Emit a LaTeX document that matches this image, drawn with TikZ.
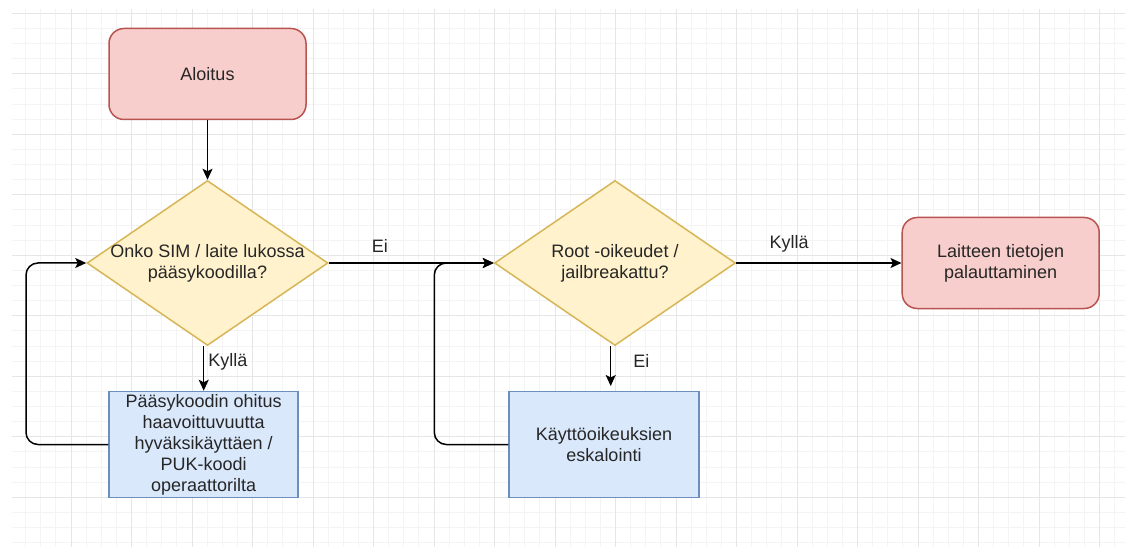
\documentclass[tikz,border=0pt]{standalone}
\usepackage{fontspec}
\setmainfont{Liberation Sans}
\usetikzlibrary{shapes.geometric,arrows.meta}

\definecolor{termfill}{HTML}{F8CECC}
\definecolor{termline}{HTML}{B85450}
\definecolor{decfill}{HTML}{FFF2CC}
\definecolor{decline}{HTML}{D6B656}
\definecolor{procfill}{HTML}{DAE8FC}
\definecolor{procline}{HTML}{6C8EBF}
\definecolor{gridminor}{HTML}{F4F4F4}
\definecolor{gridmajor}{HTML}{E6E6E6}

\tikzset{
  txt/.style={font=\fontsize{18}{21}\selectfont, align=center, text=black!85},
  terminal/.style={txt, rectangle, rounded corners=15, draw=termline, fill=termfill,
    line width=1.5, minimum width=197, minimum height=91, inner sep=0},
  decision/.style={diamond, draw=decline, fill=decfill, line width=1.5,
    minimum width=241, minimum height=165, inner sep=0},
  process/.style={txt, rectangle, draw=procline, fill=procfill, line width=1.5,
    minimum height=106, inner sep=0},
  arr/.style={line width=1.5, -{Stealth[length=11, width=10, inset=2.5]}},
  lbl/.style={font=\fontsize{18}{21}\selectfont, text=black!85, inner sep=0},
}

\begin{document}
\begin{tikzpicture}[x=1pt, y=-1pt]
  \useasboundingbox (0,0) rectangle (1130,548);
  \fill[white] (0,0) rectangle (1130,548);

  % background grid: minor every 15.125, major every 60.5
  \begin{scope}
    \clip (12,10) rectangle (1125,546);
    \foreach \j in {-3,...,70} {
      \pgfmathsetmacro{\gx}{71+15.125*\j}
      \draw[gridminor, line width=1] (\gx,0) -- (\gx,548);
    }
    \foreach \j in {0,...,36} {
      \pgfmathsetmacro{\gy}{13.3+15.125*\j}
      \draw[gridminor, line width=1] (0,\gy) -- (1130,\gy);
    }
    \foreach \j in {-1,...,18} {
      \pgfmathsetmacro{\gx}{71+60.5*\j}
      \draw[gridmajor, line width=1] (\gx,0) -- (\gx,548);
    }
    \foreach \j in {0,...,9} {
      \pgfmathsetmacro{\gy}{13.3+60.5*\j}
      \draw[gridmajor, line width=1] (0,\gy) -- (1130,\gy);
    }
  \end{scope}

  % nodes
  \node[terminal] (start) at (207.5,74) {Aloitus};
  \node[decision, label={[name=d1t, txt]center:Onko SIM / laite lukossa\\pääsykoodilla?}]
    (d1) at (207.5,263) {};
  \node[process, minimum width=189] (b1) at (203.7,444.5)
    {Pääsykoodin ohitus\\haavoittuvuutta\\hyväksikäyttäen /\\PUK-koodi\\operaattorilta};
  \node[decision, label={[name=d2t, txt]center:Root -oikeudet /\\jailbreakattu?}]
    (d2) at (615,263) {};
  \node[process, minimum width=190] (b2) at (604,444.5) {Käyttöoikeuksien\\eskalointi};
  \node[terminal] (restore) at (1000.7,263) {Laitteen tietojen\\palauttaminen};

  % helper points for the loops and the short arrow
  \coordinate (loop1) at (26,444.5);
  \coordinate (loop2) at (434.3,444.5);
  \coordinate (b2in) at (610.7,386);

  % connectors
  \draw[arr] (start.south) -- (d1.north);
  \draw[arr] (d1.east) -- node[lbl, pos=0.31, above=10] (ei1) {Ei} (d2.west);
  \draw[arr] (b1.north |- d1.south) -- node[lbl, pos=0.36, right=4] (kyl1) {Kyllä} (b1.north);
  \draw[arr, rounded corners=12] (b1.west) -- (loop1) |- (d1.west);
  \draw[arr] (d2.east) -- node[lbl, pos=0.32, above=10] (kyl2) {Kyllä} (restore.west);
  \draw[arr] (b2in |- d2.south) -- node[lbl, pos=0.37, right=22] (ei2) {Ei} (b2in);
  \draw[arr, rounded corners=12] (b2.west) -- (loop2) |- (d2.west);
\end{tikzpicture}
\end{document}
